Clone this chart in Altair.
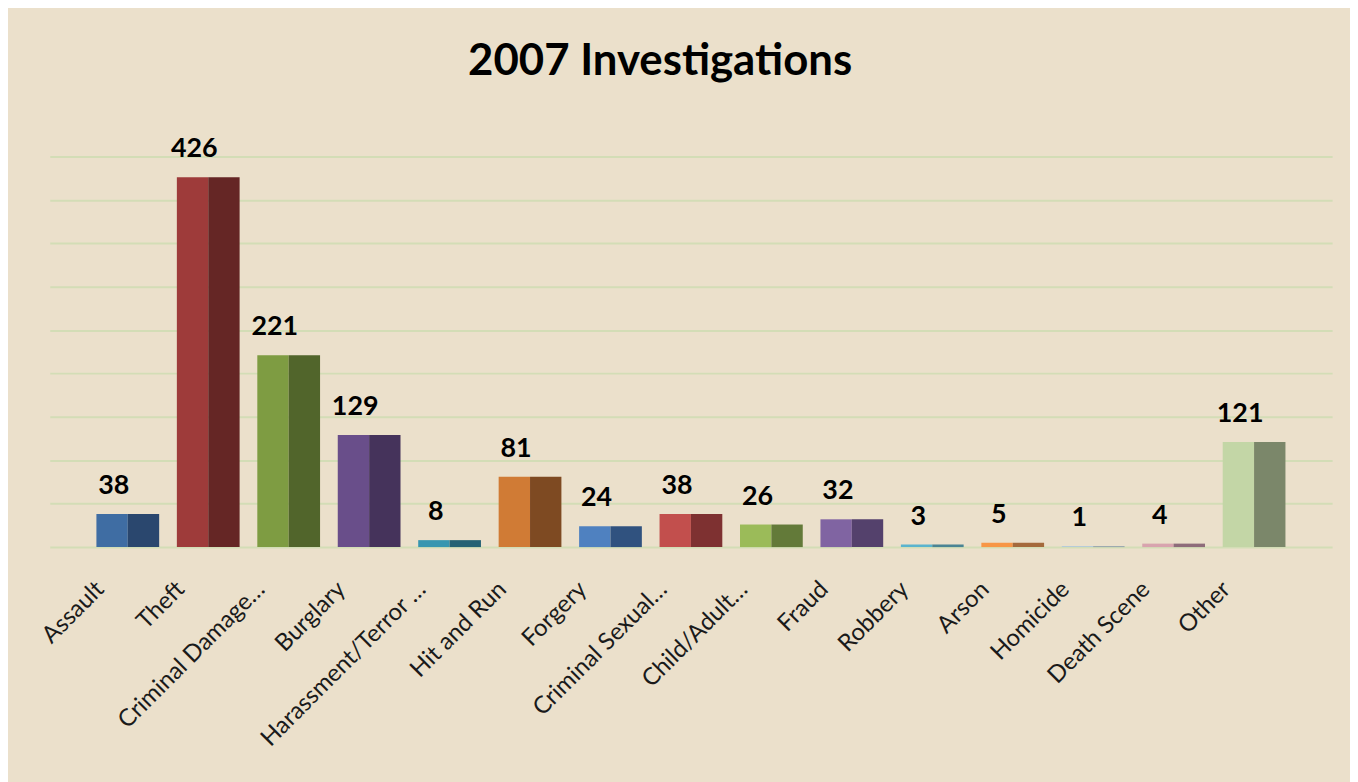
import altair as alt
import pandas as pd

categories = ["Assault", "Theft", "Criminal Damage…", "Burglary", "Harassment/Terror …",
              "Hit and Run", "Forgery", "Criminal Sexual…", "Child/Adult…", "Fraud",
              "Robbery", "Arson", "Homicide", "Death Scene", "Other"]
values = [38, 426, 221, 129, 8, 81, 24, 38, 26, 32, 3, 5, 1, 4, 121]

light_colors = ["#3F6DA3", "#9E3B3A", "#7E9C42", "#694E8A", "#3796B0",
                "#D07B35", "#4F81C0", "#C24F4D", "#9BBB59", "#8064A2",
                "#5AB4CE", "#F79646", "#A8C4E0", "#D8A4AE", "#C3D6A6"]
dark_colors = ["#2A476E", "#652625", "#51652B", "#45335B", "#246274",
               "#7E4A22", "#30527F", "#7E3131", "#637A39", "#54416C",
               "#4A8494", "#A46A3C", "#8A9AAA", "#8E6C7A", "#7B876A"]

rows = []
keys, rng = [], []
for c, v, lc, dc in zip(categories, values, light_colors, dark_colors):
    for half, col in (("a", lc), ("b", dc)):
        k = c + "|" + half
        rows.append({"category": c, "value": v, "half": half, "key": k})
        keys.append(k)
        rng.append(col)
bars_df = pd.DataFrame(rows)
labels_df = pd.DataFrame({"category": categories, "value": values})

FONT = "Lato"

x_enc = alt.X("category:N", sort=categories,
              scale=alt.Scale(paddingInner=0.22, paddingOuter=0.58),
              axis=alt.Axis(labelAngle=-45, labelFontSize=24, labelFont=FONT,
                            labelColor="#1a1a1a", domain=False, ticks=False, tickSize=0,
                            grid=False, title=None, labelOffset=-36, labelPadding=30,
                            labelLimit=400))
y_enc = alt.Y("value:Q", scale=alt.Scale(domain=[0, 450], nice=False),
              axis=alt.Axis(values=list(range(0, 451, 50)), grid=True, gridColor="#D3DDB6",
                            gridWidth=2, domain=False, ticks=False, labels=False, title=None))

bars = alt.Chart(bars_df).mark_bar().encode(
    x=x_enc,
    xOffset=alt.XOffset("half:N", scale=alt.Scale(paddingInner=0, paddingOuter=0)),
    y=y_enc,
    color=alt.Color("key:N", scale=alt.Scale(domain=keys, range=rng), legend=None),
)

text = alt.Chart(labels_df).mark_text(font=FONT, fontSize=27, fontWeight="bold",
                                      color="#000000", baseline="bottom", dy=-14, dx=-14).encode(
    x=alt.X("category:N", sort=categories),
    y=alt.Y("value:Q"),
    text=alt.Text("value:Q"),
)

chart = alt.layer(bars, text).properties(
    width=1290, height=393,
    background="#EBE0CB",
    padding={"left": 42, "top": 147, "right": 18, "bottom": 234},
    autosize=alt.AutoSizeParams(type="none"),
    title=alt.TitleParams("2007 Investigations", font=FONT, fontSize=44, fontWeight="bold",
                          color="#000000", anchor="middle", dx=-31, offset=52, frame="group"),
).configure_view(stroke=None)

chart.save("out.html", embed_options={"renderer": "svg", "actions": False})
